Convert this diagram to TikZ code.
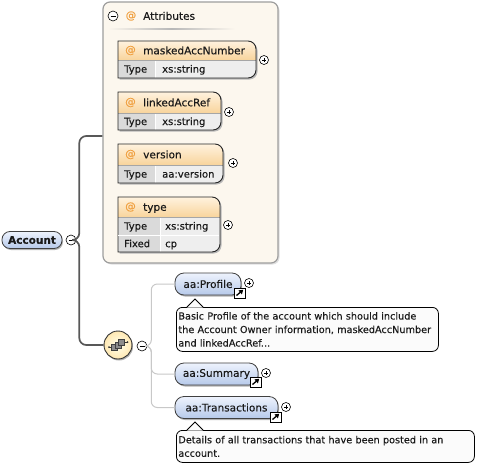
\documentclass[tikz,border=0pt]{standalone}
\usepackage{fontspec}
\setmainfont{DejaVu Sans}[FakeBold=0.25]
\usetikzlibrary{shadows,arrows.meta}
\definecolor{hdrtop}{HTML}{FFF2DE}
\definecolor{hdrbot}{HTML}{F8D49C}
\definecolor{typebg}{HTML}{DADADA}
\definecolor{valbg}{HTML}{EEEEEE}
\definecolor{contfill}{HTML}{FCF7EE}
\definecolor{atcol}{HTML}{F0A040}
\definecolor{pilltop}{HTML}{EEF3FD}
\definecolor{pillbot}{HTML}{B6C9EA}
\definecolor{connc}{HTML}{585858}
\definecolor{treec}{HTML}{C8C8C8}
\definecolor{tipfill}{HTML}{FBFBFB}
\definecolor{txt}{HTML}{1A1A1A}
\newcommand\attrbox[6]{%
  \fill[black!28] ({#1+1.5},{#3-1.5}) -- ({#2+1.5-8},{#3-1.5}) arc[start angle=90,end angle=0,radius=8pt] -- ({#2+1.5},{#5-1.5+8}) arc[start angle=0,end angle=-90,radius=8pt] -- ({#1+1.5},{#5-1.5}) -- cycle;
  \begin{scope}
    \clip (#1,#3) -- ({#2-8},#3) arc[start angle=90,end angle=0,radius=8pt] -- (#2,{#5+8}) arc[start angle=0,end angle=-90,radius=8pt] -- (#1,#5) -- cycle;
    \shade[top color=hdrtop,bottom color=hdrbot] (#1,#3) rectangle (#2,#4);
    \fill[valbg] (#1,#4) rectangle (#2,#5);
    \fill[typebg] (#1,#4) rectangle (#6,#5);
    \draw[white,line width=1pt] (#6,#4) -- (#6,#5);
    \draw[black!35,line width=0.5pt] (#1,#4) -- (#2,#4);
  \end{scope}
  \draw[black!85,line width=0.9pt] (#1,#3) -- ({#2-8},#3) arc[start angle=90,end angle=0,radius=8pt] -- (#2,{#5+8}) arc[start angle=0,end angle=-90,radius=8pt] -- (#1,#5) -- cycle;
}
\begin{document}
\begin{tikzpicture}[x=1pt,y=1pt,
  pmc/.style={circle,draw=black,fill=white,line width=0.6pt,inner sep=0pt,minimum size=9pt},
  plusc/.style={pmc,path picture={
     \draw[line width=0.6pt] ([xshift=-2.2pt]path picture bounding box.center) -- ([xshift=2.2pt]path picture bounding box.center);
     \draw[line width=0.6pt] ([yshift=-2.2pt]path picture bounding box.center) -- ([yshift=2.2pt]path picture bounding box.center);}},
  minusc/.style={pmc,minimum size=10pt,path picture={
     \draw[line width=0.6pt] ([xshift=-2.5pt]path picture bounding box.center) -- ([xshift=2.5pt]path picture bounding box.center);}},
  linkicon/.style={draw=black,fill=white,line width=0.6pt,inner sep=0pt,minimum width=11pt,minimum height=10pt,
     path picture={\draw[line width=1.3pt,-{Triangle[length=4pt,width=5pt]}]
       ([shift={(2.5pt,2.5pt)}]path picture bounding box.south west) -- ([shift={(-1.8pt,-1.8pt)}]path picture bounding box.north east);}},
  nm/.style={font=\fontsize{10.5}{12}\selectfont,text=txt,inner sep=0pt},
  bd/.style={font=\fontsize{10}{12}\selectfont,text=txt,inner sep=0pt},
  atsign/.style={font=\fontsize{10.5}{12}\selectfont,text=atcol,inner sep=0pt},
  elem/.style={draw=black!75,line width=0.8pt,rounded corners=9pt,top color=pilltop,bottom color=pillbot,
     minimum height=22pt,inner sep=0pt,font=\fontsize{10.5}{12}\selectfont,text=txt,
     drop shadow={shadow xshift=1pt,shadow yshift=-1.5pt,fill=black,opacity=0.3}},
  conn/.style={draw=connc,line width=1.7pt,rounded corners=7pt},
  tree/.style={draw=treec,line width=1pt,rounded corners=6pt},
  tip/.style={draw=black,line width=0.8pt,fill=tipfill,rounded corners=6pt,anchor=north west,align=left,
     inner xsep=2pt,inner ysep=0pt,font=\fontsize{9.7}{13.5}\selectfont,text=txt},
]
\useasboundingbox (0,0) rectangle (498,-466);
\fill[white] (0,0) rectangle (498,-466);

% attributes container
\fill[black!12,rounded corners=7pt] (104.5,-3.5) rectangle (279.5,-264.5);
\node[draw=black!38,line width=1.2pt,fill=contfill,rounded corners=7pt,minimum width=175pt,minimum height=261pt,inner sep=0pt] (attrs) at (190.5,-132.5) {};
\node[minusc] (attm) at (113,-16) {};
\node[atsign] (at0) at (131,-16) {@};
\node[nm,anchor=base west] (attl) at (143,-19.8) {Attributes};
\shade[left color=contfill,right color=contfill,middle color=black!28] (108,-29.8) rectangle (235,-28.6);

% maskedAccNumber
\attrbox{118}{256}{-41}{-60}{-78}{155}
\node[atsign] (at1) at (130.5,-50.5) {@};
\node[nm,anchor=base west] (a1) at (143,-54.3) {maskedAccNumber};
\node[bd,anchor=base west] (a1t) at (124,-72.6) {Type};
\node[bd,anchor=base west] (a1v) at (162,-72.6) {xs:string};
\node[plusc] (p1) at (264,-60) {};

% linkedAccRef
\attrbox{118}{221}{-92}{-113}{-130}{155}
\node[atsign] (at2) at (130.5,-102.5) {@};
\node[nm,anchor=base west] (a2) at (143,-106.3) {linkedAccRef};
\node[bd,anchor=base west] (a2t) at (124,-125) {Type};
\node[bd,anchor=base west] (a2v) at (162,-125) {xs:string};
\node[plusc] (p2) at (229,-112) {};

% version
\attrbox{118}{223}{-144}{-165}{-183}{155}
\node[atsign] (at3) at (130.5,-154.5) {@};
\node[nm,anchor=base west] (a3) at (143,-158.3) {version};
\node[bd,anchor=base west] (a3t) at (124,-177.6) {Type};
\node[bd,anchor=base west] (a3v) at (162,-177.6) {aa:version};
\node[plusc] (p3) at (233,-163) {};

% type
\attrbox{118}{220}{-197}{-217}{-252}{160}
\draw[white,line width=1pt] (118,-235) -- (219,-235);
\node[atsign] (at4) at (130.5,-207) {@};
\node[nm,anchor=base west] (a4) at (143,-210.8) {type};
\node[bd,anchor=base west] (a4t) at (124,-229.6) {Type};
\node[bd,anchor=base west] (a4v) at (165,-229.6) {xs:string};
\node[bd,anchor=base west] (a4f) at (124,-247.2) {Fixed};
\node[bd,anchor=base west] (a4c) at (165,-247.2) {cp};
\node[plusc] (p4) at (228,-225) {};

% Account
\node[elem,rounded corners=8pt,minimum width=60pt,minimum height=17pt,font=\fontsize{10.5}{12}\selectfont\bfseries] (acc) at (32,-240) {Account};
\node[minusc] (accm) at (71,-240) {};

% sequence compositor
\node[circle,draw=black!80,line width=0.9pt,inner color=yellow!8,outer color=yellow!40!orange!30,minimum size=28pt,inner sep=0pt,
  drop shadow={shadow xshift=1pt,shadow yshift=-1.5pt,fill=black,opacity=0.3}] (seq) at (118,-345) {};
\begin{scope}[shift={(seq.center)}]
  \draw[black!80,line width=0.7pt] (-9,-2) -- (-5,-2);
  \fill[black!80] (-9,-2) circle (1pt);
  \draw[black!75,fill=black!45,line width=0.5pt] (-6.5,-5.5) rectangle (-0.5,0.5);
  \draw[black!75,fill=black!45,line width=0.5pt] (-3,-3) rectangle (3,3);
  \draw[black!75,fill=black!45,line width=0.5pt] (0.5,0) rectangle (6.5,6);
  \draw[black!80,line width=0.7pt] (6.5,3) -- (9.5,3);
  \fill[black!80] (9.5,3) circle (1pt);
\end{scope}
\node[minusc] (seqm) at (142,-346) {};

% connectors from Account
\draw[conn] (accm.east) -- ++(3,0) |- ([yshift=-3.5pt]attrs.west);
\draw[conn] (accm.east) -- ++(3,0) |- (seq.west);

% child elements
\node[elem,minimum width=66pt] (prof) at (208,-284) {aa:Profile};
\node[elem,minimum width=83pt] (summ) at (216.5,-374) {aa:Summary};
\node[elem,minimum width=103pt] (trans) at (226.5,-407.5) {aa:Transactions};

\draw[tree] (seqm.east) -- ++(4,0) |- (prof.west);
\draw[tree] (seqm.east) -- ++(4,0) |- (summ.west);
\draw[tree] (seqm.east) -- ++(4,0) |- (trans.west);

\node[linkicon] (l1) at (239.5,-293) {};
\node[plusc] (pp1) at (249,-283) {};
\node[linkicon] (l2) at (255.5,-382) {};
\node[plusc] (pp2) at (266,-373) {};
\node[linkicon] (l3) at (275.5,-417) {};
\node[plusc] (pp3) at (286,-407) {};

% tooltips
\node[tip,text width=258pt,minimum height=44pt] (tip1) at (176,-307)
  {Basic Profile of the account which should include\\the Account Owner information, maskedAccNumber\\and linkedAccRef...};
\fill[tipfill] ([xshift=11pt,yshift=-0.6pt]tip1.north west) -- ([xshift=19pt,yshift=7.4pt]tip1.north west) -- ([xshift=27pt,yshift=-0.6pt]tip1.north west) -- cycle;
\draw[black,line width=0.8pt] ([xshift=11pt]tip1.north west) -- ([xshift=19pt,yshift=8pt]tip1.north west) -- ([xshift=27pt]tip1.north west);

\node[tip,text width=294pt,minimum height=32pt] (tip2) at (176,-430)
  {Details of all transactions that have been posted in an\\account.};
\fill[tipfill] ([xshift=11pt,yshift=-0.6pt]tip2.north west) -- ([xshift=19pt,yshift=7.4pt]tip2.north west) -- ([xshift=27pt,yshift=-0.6pt]tip2.north west) -- cycle;
\draw[black,line width=0.8pt] ([xshift=11pt]tip2.north west) -- ([xshift=19pt,yshift=8pt]tip2.north west) -- ([xshift=27pt]tip2.north west);
\end{tikzpicture}
\end{document}
